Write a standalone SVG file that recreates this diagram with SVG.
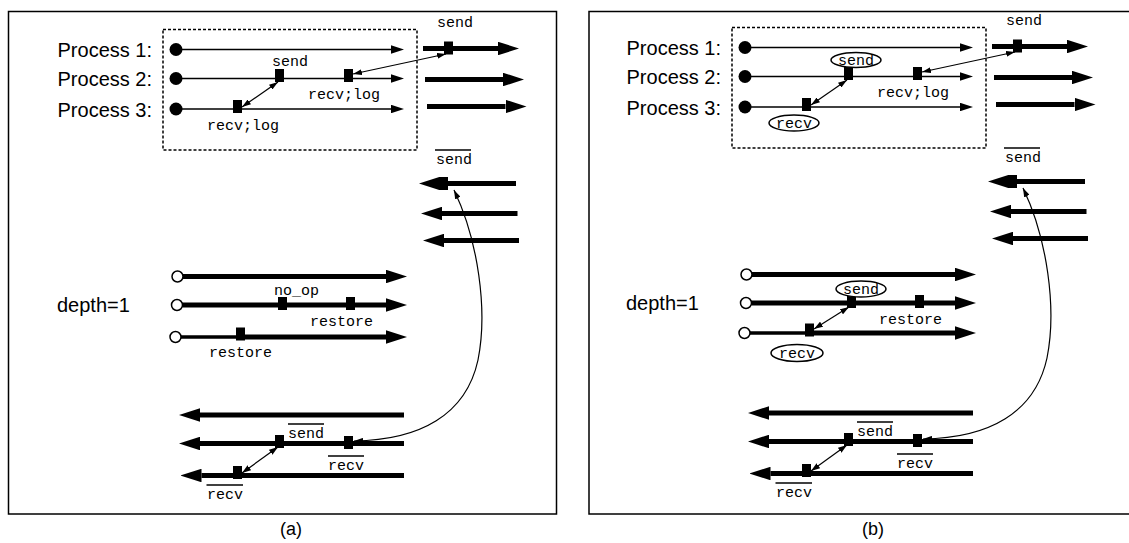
<svg xmlns="http://www.w3.org/2000/svg" width="1129" height="543" viewBox="0 0 1129 543">
<style>
.frame{fill:none;stroke:#000;stroke-width:1.5}
.dash{fill:none;stroke:#000;stroke-width:1.5;stroke-dasharray:3 2}
.thin{stroke:#000;stroke-width:1.3;fill:none}
.thick{stroke:#000;stroke-width:5;fill:none}
.mid{stroke:#000;stroke-width:3.5;fill:none}
.conn{stroke:#000;stroke-width:1.2;fill:none}
.ov{stroke:#000;stroke-width:1.3}
.dot{fill:#000}
.hol{fill:#fff;stroke:#000;stroke-width:1.5}
.sq{fill:#000}
.ell{fill:#fff;stroke:#000;stroke-width:1.5}
.sans{font-family:"Liberation Sans",Arial,sans-serif;font-size:20px;fill:#000}
.cap{font-family:"Liberation Sans",Arial,sans-serif;font-size:18px;fill:#000}
.mono{font-family:"Liberation Mono","Courier New",monospace;font-size:15px;fill:#000}
</style>
<defs>
<marker id="pa" viewBox="0 0 13 8.5" refX="0" refY="4.25" markerWidth="13" markerHeight="8.5" markerUnits="userSpaceOnUse" orient="auto"><path d="M0,0 L13,4.25 L0,8.5 z" fill="#000"/></marker>
<marker id="big" viewBox="0 0 21 13.5" refX="0" refY="6.75" markerWidth="21" markerHeight="13.5" markerUnits="userSpaceOnUse" orient="auto"><path d="M0,0 L21,6.75 L0,13.5 z" fill="#000"/></marker>
<marker id="sm" viewBox="0 0 9 6" refX="9" refY="3" markerWidth="9" markerHeight="6" markerUnits="userSpaceOnUse" orient="auto-start-reverse"><path d="M0,0 L9,3 L0,6 z" fill="#000"/></marker>
</defs>

<!-- ================= PANEL A ================= -->
<g id="panel-a">
  <rect id="frame-a" class="frame" x="8.5" y="11.5" width="548" height="502.5"/>
  <rect id="window-a" class="dash" x="163" y="29.5" width="254" height="120.5"/>
  <text class="cap" x="291" y="535" text-anchor="middle">(a)</text>

  <g id="a-proc1">
    <text class="sans" x="152" y="56.5" text-anchor="end">Process 1:</text>
    <circle class="dot" cx="176" cy="49.5" r="6.5"/>
    <line class="thin" x1="176" y1="49.5" x2="391" y2="49.5" marker-end="url(#pa)"/>
  </g>
  <g id="a-proc2">
    <text class="sans" x="152" y="85.5" text-anchor="end">Process 2:</text>
    <circle class="dot" cx="176" cy="78.5" r="6.5"/>
    <line class="thin" x1="176" y1="78.5" x2="391" y2="78.5" marker-end="url(#pa)"/>
    <rect class="sq" x="275" y="69" width="9" height="13"/>
    <text class="mono" x="272" y="66">send</text>
    <rect class="sq" x="344" y="69" width="9" height="13"/>
    <text class="mono" x="308" y="99">recv;log</text>
  </g>
  <g id="a-proc3">
    <text class="sans" x="152" y="116.5" text-anchor="end">Process 3:</text>
    <circle class="dot" cx="176" cy="109" r="6.5"/>
    <line class="thin" x1="176" y1="109" x2="391" y2="109" marker-end="url(#pa)"/>
    <rect class="sq" x="233" y="100" width="9" height="13"/>
    <text class="mono" x="207" y="130">recv;log</text>
  </g>

  <g id="a-fwd1">
    <text class="mono" x="437" y="27">send</text>
    <line class="thick" x1="423" y1="48.5" x2="498" y2="48.5" marker-end="url(#big)"/>
    <rect class="sq" x="444" y="41.5" width="9" height="13"/>
  </g>
  <g id="a-fwd2">
    <line class="thick" x1="425" y1="79.5" x2="503" y2="79.5" marker-end="url(#big)"/>
  </g>
  <g id="a-fwd3">
    <line class="thick" x1="427" y1="106.5" x2="505.5" y2="106.5" marker-end="url(#big)"/>
  </g>

  <g id="a-rev1">
    <line class="ov" x1="435" y1="150" x2="471" y2="150"/>
    <text class="mono" x="436" y="164">send</text>
    <line class="thick" x1="516" y1="183.5" x2="440" y2="183.5" marker-end="url(#big)"/>
    <rect class="sq" x="439" y="177" width="9" height="13"/>
  </g>
  <g id="a-rev2">
    <line class="thick" x1="517.5" y1="213.5" x2="442" y2="213.5" marker-end="url(#big)"/>
  </g>
  <g id="a-rev3">
    <line class="thick" x1="519" y1="240.5" x2="444" y2="240.5" marker-end="url(#big)"/>
  </g>

  <text class="sans" x="57" y="312">depth=1</text>
  <g id="a-depth1">
    <line class="thick" x1="183" y1="276.5" x2="386" y2="276.5" marker-end="url(#big)"/>
    <circle class="hol" cx="177.5" cy="276.5" r="5.5"/>
  </g>
  <g id="a-depth2">
    <line class="thick" x1="182.5" y1="305" x2="386" y2="305" marker-end="url(#big)"/>
    <circle class="hol" cx="177" cy="305" r="5.5"/>
    <rect class="sq" x="278" y="297" width="9" height="13"/>
    <text class="mono" x="274" y="295">no_op</text>
    <rect class="sq" x="346" y="297" width="9" height="13"/>
    <text class="mono" x="310" y="326">restore</text>
  </g>
  <g id="a-depth3">
    <line class="mid" x1="181" y1="337" x2="237" y2="337"/>
    <line class="thick" x1="237" y1="337" x2="386" y2="337" marker-end="url(#big)"/>
    <circle class="hol" cx="175.5" cy="337" r="5.5"/>
    <rect class="sq" x="236" y="327.5" width="9" height="13"/>
    <text class="mono" x="209" y="357">restore</text>
  </g>

  <g id="a-back1">
    <line class="thick" x1="404" y1="415" x2="200" y2="415" marker-end="url(#big)"/>
  </g>
  <g id="a-back2">
    <line class="thick" x1="404" y1="443.5" x2="200" y2="443.5" marker-end="url(#big)"/>
    <rect class="sq" x="275" y="435" width="9" height="13"/>
    <line class="ov" x1="288" y1="424" x2="324" y2="424"/>
    <text class="mono" x="288" y="438">send</text>
    <rect class="sq" x="344" y="436" width="9" height="13"/>
    <line class="ov" x1="328" y1="456" x2="364" y2="456"/>
    <text class="mono" x="328" y="470">recv</text>
  </g>
  <g id="a-back3">
    <line class="thick" x1="404" y1="475.5" x2="201.5" y2="475.5" marker-end="url(#big)"/>
    <rect class="sq" x="233" y="466" width="9" height="13"/>
    <line class="ov" x1="206.5" y1="485" x2="243" y2="485"/>
    <text class="mono" x="207" y="499">recv</text>
  </g>
</g>

<g id="connectors-a">
  <line class="conn" x1="242" y1="107" x2="278" y2="82" marker-start="url(#sm)" marker-end="url(#sm)"/>
  <line class="conn" x1="353" y1="74" x2="446" y2="54" marker-start="url(#sm)" marker-end="url(#sm)"/>
  <path class="conn" d="M454,190 C478,240 488,310 478,360 C466,415 420,440 354,441" marker-start="url(#sm)" marker-end="url(#sm)"/>
  <line class="conn" x1="242" y1="473" x2="278" y2="447" marker-start="url(#sm)" marker-end="url(#sm)"/>
</g>

<!-- ================= PANEL B ================= -->
<rect id="frame-b" class="frame" x="589" y="11.5" width="548" height="502.5"/>
<text class="cap" x="873" y="535" text-anchor="middle">(b)</text>
<g id="panel-b" transform="translate(569,-2)">
  <rect id="window-b" class="dash" x="163" y="29.5" width="254" height="120.5"/>

  <g id="b-proc1">
    <text class="sans" x="152" y="56.5" text-anchor="end">Process 1:</text>
    <circle class="dot" cx="176" cy="49.5" r="6.5"/>
    <line class="thin" x1="176" y1="49.5" x2="391" y2="49.5" marker-end="url(#pa)"/>
  </g>
  <g id="b-proc2">
    <text class="sans" x="152" y="85.5" text-anchor="end">Process 2:</text>
    <circle class="dot" cx="176" cy="78.5" r="6.5"/>
    <line class="thin" x1="176" y1="78.5" x2="391" y2="78.5" marker-end="url(#pa)"/>
    <rect class="sq" x="275" y="69" width="9" height="13"/>
    <ellipse class="ell" cx="287" cy="62" rx="25" ry="7.5"/>
    <text class="mono" x="287" y="66.5" text-anchor="middle">send</text>
    <rect class="sq" x="344" y="69" width="9" height="13"/>
    <text class="mono" x="308" y="99">recv;log</text>
  </g>
  <g id="b-proc3">
    <text class="sans" x="152" y="116.5" text-anchor="end">Process 3:</text>
    <circle class="dot" cx="176" cy="109" r="6.5"/>
    <line class="thin" x1="176" y1="109" x2="391" y2="109" marker-end="url(#pa)"/>
    <rect class="sq" x="233" y="100" width="9" height="13"/>
    <ellipse class="ell" cx="225" cy="125" rx="25" ry="8"/>
    <text class="mono" x="225" y="129.5" text-anchor="middle">recv</text>
  </g>

  <g id="b-fwd1">
    <text class="mono" x="437" y="27">send</text>
    <line class="thick" x1="423" y1="48.5" x2="498" y2="48.5" marker-end="url(#big)"/>
    <rect class="sq" x="444" y="41.5" width="9" height="13"/>
  </g>
  <g id="b-fwd2">
    <line class="thick" x1="425" y1="79.5" x2="503" y2="79.5" marker-end="url(#big)"/>
  </g>
  <g id="b-fwd3">
    <line class="thick" x1="427" y1="106.5" x2="505.5" y2="106.5" marker-end="url(#big)"/>
  </g>

  <g id="b-rev1">
    <line class="ov" x1="435" y1="150" x2="471" y2="150"/>
    <text class="mono" x="436" y="164">send</text>
    <line class="thick" x1="516" y1="183.5" x2="440" y2="183.5" marker-end="url(#big)"/>
    <rect class="sq" x="439" y="177" width="9" height="13"/>
  </g>
  <g id="b-rev2">
    <line class="thick" x1="517.5" y1="213.5" x2="442" y2="213.5" marker-end="url(#big)"/>
  </g>
  <g id="b-rev3">
    <line class="thick" x1="519" y1="240.5" x2="444" y2="240.5" marker-end="url(#big)"/>
  </g>

  <text class="sans" x="57" y="312">depth=1</text>
  <g id="b-depth1">
    <line class="thick" x1="183" y1="276.5" x2="386" y2="276.5" marker-end="url(#big)"/>
    <circle class="hol" cx="177.5" cy="276.5" r="5.5"/>
  </g>
  <g id="b-depth2">
    <line class="thick" x1="182.5" y1="305" x2="386" y2="305" marker-end="url(#big)"/>
    <circle class="hol" cx="177" cy="305" r="5.5"/>
    <rect class="sq" x="278" y="297" width="9" height="13"/>
    <ellipse class="ell" cx="292" cy="291" rx="25" ry="8"/>
    <text class="mono" x="292" y="295.5" text-anchor="middle">send</text>
    <rect class="sq" x="346" y="297" width="9" height="13"/>
    <text class="mono" x="310" y="326">restore</text>
  </g>
  <g id="b-depth3">
    <line class="mid" x1="181" y1="335" x2="237" y2="335"/>
    <line class="thick" x1="237" y1="335" x2="386" y2="335" marker-end="url(#big)"/>
    <circle class="hol" cx="175.5" cy="335" r="5.5"/>
    <rect class="sq" x="236" y="325.5" width="9" height="13"/>
    <ellipse class="ell" cx="228" cy="355" rx="26" ry="8.5"/>
    <text class="mono" x="228" y="359.5" text-anchor="middle">recv</text>
  </g>

  <g id="b-back1">
    <line class="thick" x1="404" y1="415" x2="200" y2="415" marker-end="url(#big)"/>
  </g>
  <g id="b-back2">
    <line class="thick" x1="404" y1="443.5" x2="200" y2="443.5" marker-end="url(#big)"/>
    <rect class="sq" x="275" y="435" width="9" height="13"/>
    <line class="ov" x1="288" y1="424" x2="324" y2="424"/>
    <text class="mono" x="288" y="438">send</text>
    <rect class="sq" x="344" y="436" width="9" height="13"/>
    <line class="ov" x1="328" y1="456" x2="364" y2="456"/>
    <text class="mono" x="328" y="470">recv</text>
  </g>
  <g id="b-back3">
    <line class="thick" x1="404" y1="475.5" x2="201.5" y2="475.5" marker-end="url(#big)"/>
    <rect class="sq" x="233" y="466" width="9" height="13"/>
    <line class="ov" x1="206.5" y1="485" x2="243" y2="485"/>
    <text class="mono" x="207" y="499">recv</text>
  </g>

  <g id="connectors-b">
    <line class="conn" x1="242" y1="107" x2="278" y2="82" marker-start="url(#sm)" marker-end="url(#sm)"/>
    <line class="conn" x1="353" y1="74" x2="446" y2="54" marker-start="url(#sm)" marker-end="url(#sm)"/>
    <line class="conn" x1="245" y1="331" x2="280" y2="309" marker-start="url(#sm)" marker-end="url(#sm)"/>
    <path class="conn" d="M454,190 C478,240 488,310 478,360 C466,415 420,440 354,441" marker-start="url(#sm)" marker-end="url(#sm)"/>
    <line class="conn" x1="242" y1="473" x2="278" y2="447" marker-start="url(#sm)" marker-end="url(#sm)"/>
  </g>
</g>
</svg>
